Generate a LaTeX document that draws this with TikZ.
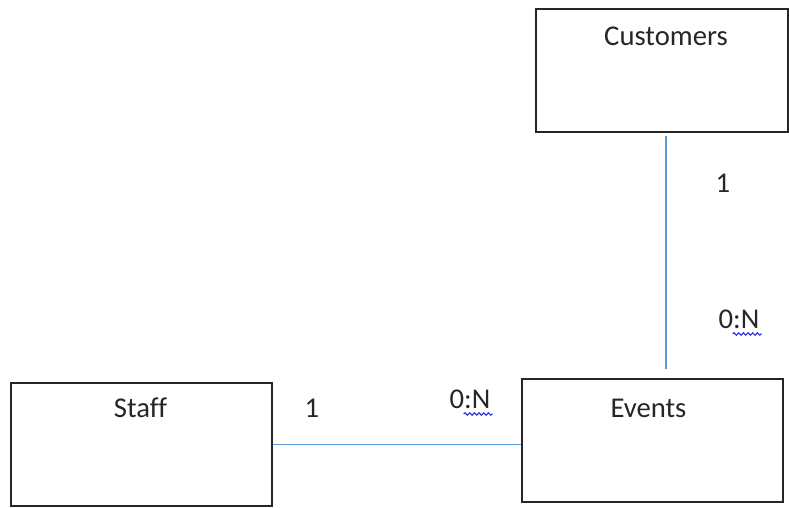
\documentclass[tikz,border=0pt]{standalone}
\usepackage{fontspec}
\setmainfont[Ligatures=CommonOff]{Carlito}
\usetikzlibrary{positioning,calc,decorations.pathmorphing}

\definecolor{relblue}{RGB}{91,155,213}
\definecolor{inkgray}{RGB}{38,38,38}
\definecolor{spellblue}{RGB}{40,40,235}

\tikzset{
  entity/.style={draw=inkgray, line width=1.1pt, minimum height=92.25pt, inner sep=0pt},
  title/.style={anchor=base, inner sep=0pt, font=\fontsize{21.5}{26}\selectfont, text=inkgray},
  card/.style={anchor=base, inner sep=0pt, font=\fontsize{21.5}{26}\selectfont, text=inkgray},
  rel/.style={draw=relblue, line width=0.9pt},
  spell/.style={draw=spellblue, line width=0.8pt, decorate,
    decoration={snake, amplitude=0.9pt, segment length=3.5pt}}
}

\begin{document}
\begin{tikzpicture}[x=0.75pt, y=-0.75pt]
  \useasboundingbox (0,0) rectangle (789,507);

  % entities
  \node[entity, minimum width=189pt] (customers) at (662,70.5) {};
  \node[entity, minimum width=195.75pt] (staff) at (141.5,444.5) {};
  \node[entity, minimum width=195.75pt] (events) at (652.5,440.5) {};

  \node[title] (customersTitle) at ($(customers.north)+(4,37)$) {Customers};
  \node[title] (staffTitle) at ($(staff.north)+(-1,35)$) {Staff};
  \node[title] (eventsTitle) at ($(events.north)+(-4,39)$) {Events};

  % relationships
  \draw[rel] ($(customers.south)+(4,3)$) -- ($(events.north)+(13.5,-9)$);
  \draw[rel] (staff.east) -- (staff.east -| events.west);

  % cardinalities
  \node[card] (customersOne) at (723,192) {1};
  \node[card] (customersMany) at (739,328) {0:N};
  \node[card] (staffOne) at (312,417) {1};
  \node[card] (staffMany) at (470,408) {0:N};

  \draw[spell] ($(customersMany.base east)+(-27,6)$) -- ($(customersMany.base east)+(2,6)$);
  \draw[spell] ($(staffMany.base east)+(-27,6)$) -- ($(staffMany.base east)+(2,6)$);
\end{tikzpicture}
\end{document}
